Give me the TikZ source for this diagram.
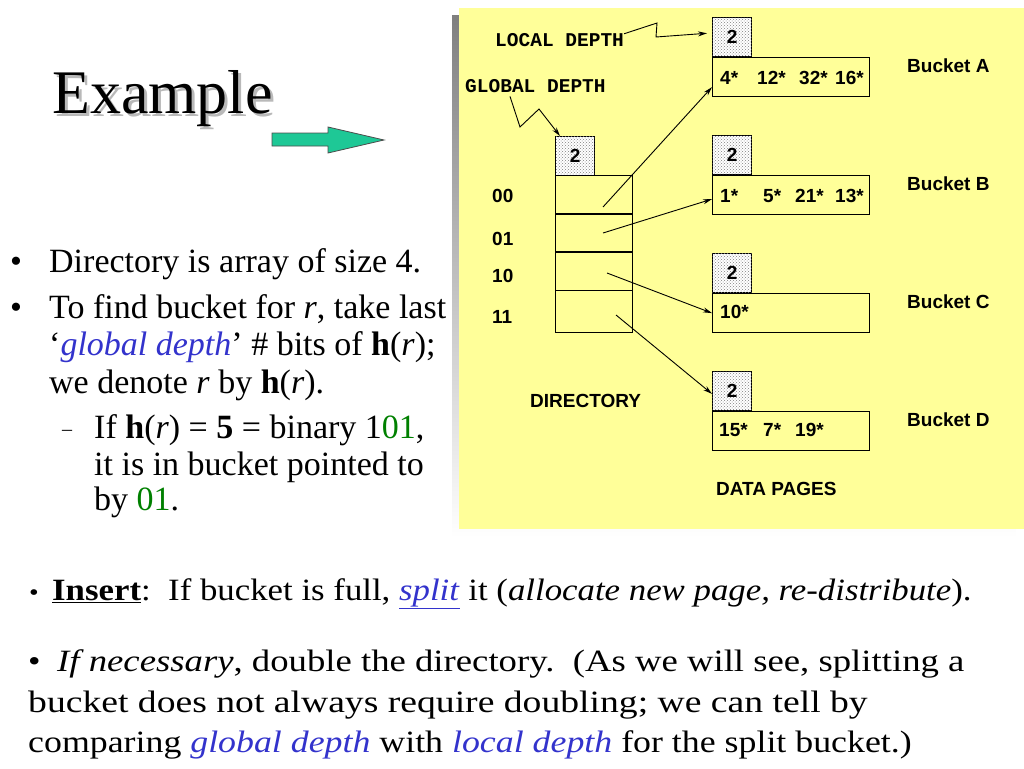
\documentclass[tikz,border=0pt]{standalone}
\usepackage{fontspec}
\setmainfont{Liberation Serif}
\newfontfamily\arialfont{Liberation Sans}
\newfontfamily\courfont{Liberation Mono}
\newfontfamily\palfont[FakeStretch=1.15]{Liberation Serif}
\usetikzlibrary{arrows.meta,patterns,positioning}
\definecolor{panel}{RGB}{255,255,153}
\definecolor{shade}{RGB}{128,128,128}
\definecolor{seagreen}{RGB}{30,200,150}
\definecolor{linkblue}{RGB}{51,51,204}
\definecolor{bitgreen}{RGB}{0,128,0}
\begin{document}
\begin{tikzpicture}[x=1pt,y=-1pt,
  txt/.style={inner sep=0pt,anchor=base west},
  lbl/.style={txt,font=\arialfont\bfseries\fontsize{19}{22}\selectfont},
  depthlbl/.style={txt,font=\courfont\bfseries\fontsize{19.5}{22}\selectfont},
  body/.style={txt,font=\fontsize{34}{37}\selectfont},
  foot/.style={txt,font=\palfont\fontsize{31}{38}\selectfont},
  cell/.style={draw,line width=1.2pt,minimum width=77pt,anchor=north west,inner sep=0pt},
  bucketrow/.style={draw,line width=1.2pt,minimum width=157pt,minimum height=39pt,anchor=north west,inner sep=0pt},
  ldbox/.style={draw,line width=1.2pt,minimum size=39pt,inner sep=0pt,fill=white,
    postaction={pattern=crosshatch dots,pattern color=gray},font=\arialfont\bfseries\fontsize{19}{22}\selectfont},
  ptr/.style={-{Stealth[length=9pt,width=5pt]},line width=0.9pt}]
\useasboundingbox (0,0) rectangle (1024,768);
\fill[shade] (452,16) rectangle (1016,538);
\fill[panel] (459,8) rectangle (1024,529);

\node[txt,font=\fontsize{62}{70}\selectfont,text=gray!55] (titleshadow) at (55,116) {Example};
\node[txt,font=\fontsize{62}{70}\selectfont] (title) at (52,113) {Example};
\draw[fill=seagreen,line width=0.8pt,draw=black!70] (272,133) -- (328,133) -- (328,127) -- (384,140) -- (328,153) -- (328,146) -- (272,146) -- cycle;

\node[ldbox,anchor=north west] (gd) at (555,136) {2};
\foreach \b/\y/\h/\t in {00/175/38/202,01/213/38/245,10/251/39/282,11/290/42/323} {
  \node[cell,minimum height=\h pt] (d\b) at (555,\y) {};
  \node[lbl] (l\b) at (492,\t) {\b};
}
\draw[line width=2.2pt] (d00.south west) -- (d00.south east);
\draw[line width=2.2pt] (d01.south west) -- (d01.south east);
\node[lbl] (dirlbl) at (530,407) {DIRECTORY};

\foreach \n/\L/\y in {a/A/57,b/B/175,c/C/293,d/D/411} {
  \node[bucketrow] (bk\n) at (712,\y) {};
  \node[ldbox,anchor=south west] (ld\n) at (bk\n.north west) {2};
  \node[lbl] (name\n) at (907,\y+15) {Bucket \L};
}
\foreach \k/\x in {4*/720,12*/757,32*/799,16*/835} \node[lbl] (ka\x) at (\x,84) {\k};
\foreach \k/\x in {1*/720,5*/763,21*/795,13*/835} \node[lbl] (kb\x) at (\x,202) {\k};
\foreach \k/\x in {10*/720} \node[lbl] (kc\x) at (\x,318) {\k};
\foreach \k/\x in {15*/719,7*/763,19*/795} \node[lbl] (kd\x) at (\x,436) {\k};
\node[lbl] (datalbl) at (716,495) {DATA PAGES};

\node[depthlbl] (localdepth) at (495,47) {LOCAL DEPTH};
\node[depthlbl] (globaldepth) at (465,92) {GLOBAL DEPTH};
\draw[ptr,shorten >=5pt] (localdepth.north east) -- (657,23) -- (656,37) -- ([yshift=4pt]lda.west);
\draw[ptr] ([shift={(45pt,-4pt)}]globaldepth.south west) -- (520,127) -- (539,109) -- ([xshift=5pt]gd.north west);

\coordinate (p00) at (603,207);
\coordinate (p01) at (603,233);
\coordinate (p10) at (607,273);
\coordinate (p11) at (616,315);
\draw[ptr] (p00) -- ([yshift=-10pt]bka.west);
\draw[ptr] (p01) -- ([yshift=-4pt]bkb.west);
\draw[ptr] (p10) -- (bkc.west);
\draw[ptr] (p11) -- ([yshift=-3pt]ldd.west);

\node[body] (bul1) at (10,272) {•};
\node[body] (line1) at (49,272) {Directory is array of size 4.};
\node[body] (bul2) at (10,318) {•};
\node[body] (line2) at (49,318) {To find bucket for \textit{r}, take last};
\node[body] (line3) at (49,355) {`\textcolor{linkblue}{\textit{global depth}}' \# bits of \textbf{h}(\textit{r});};
\node[body] (line4) at (49,393) {we denote \textit{r} by \textbf{h}(\textit{r}).};
\node[txt,font=\fontsize{20}{22}\selectfont] (dash) at (62,435) {–};
\node[body] (line5) at (94,438) {If \textbf{h}(\textit{r}) = \textbf{5} = binary 1\textcolor{bitgreen}{01},};
\node[body] (line6) at (94,475) {it is in bucket pointed to};
\node[body] (line7) at (94,510) {by \textcolor{bitgreen}{01}.};

\node[foot,font=\palfont\fontsize{24}{30}\selectfont] (fbul1) at (29,600) {•};
\node[foot] (foot1) at (52,600) {\scalebox{0.976}[1]{\underline{\textbf{Insert}}:\ \ If bucket is full, \textcolor{linkblue}{\underline{\textit{split}}} it (\textit{allocate new page, re-distribute}).}};
\node[foot] (fbul2) at (28,671) {•};
\node[foot] (foot2) at (57,671) {\scalebox{1.03}[1]{\textit{If necessary}, double the directory.\ \ (As we will see, splitting a}};
\node[foot] (foot3) at (28,712) {\scalebox{1.056}[1]{bucket does not always require doubling; we can tell by}};
\node[foot] (foot4) at (28,752) {\scalebox{1.005}[1]{comparing \textcolor{linkblue}{\textit{global depth}} with \textcolor{linkblue}{\textit{local depth}} for the split bucket.)}};
\end{tikzpicture}
\end{document}
